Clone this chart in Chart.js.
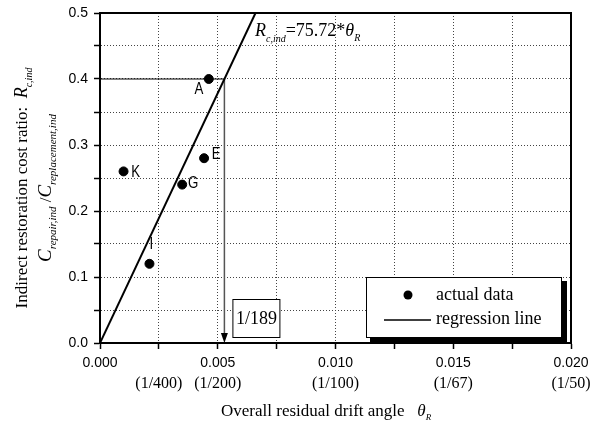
<!DOCTYPE html>
<html>
<head>
<meta charset="utf-8">
<script src="https://cdn.jsdelivr.net/npm/chart.js@4.4.0/dist/chart.umd.min.js"></script>
<style>
  html, body { margin: 0; padding: 0; background: #fff; }
</style>
</head>
<body>
<canvas id="chart" width="613" height="427"></canvas>
<script>
// data
var pointNames = ['A', 'E', 'G', 'K', 'I'];
var driftAngle = [0.00462, 0.00442, 0.00349, 0.00100, 0.00210];
var costRatio  = [0.40, 0.28, 0.24, 0.26, 0.12];
var slope = 75.72;          // R = 75.72 * theta
var targetRatio = 0.4;      // read-back level -> 1/189
var xFracTicks  = [0.0025, 0.005, 0.010, 0.015, 0.020];
var xFracLabels = ['(1/400)', '(1/200)', '(1/100)', '(1/67)', '(1/50)'];
var boxLabel = '1/189';

var serif = '"Liberation Serif", "Times New Roman", serif';
var sans = '"Liberation Sans", Arial, sans-serif';

var points = driftAngle.map(function (x, i) { return { x: x, y: costRatio[i] }; });
var xCross = targetRatio / slope;
var regLine = [{ x: 0, y: 0 }, { x: 0.5 / slope, y: 0.5 }];

// label offsets in px (A sits below-left, I above)
var labelOffset = { A: [-10, 10], E: [12, -4], G: [11, -1], K: [12, 1], I: [2, -19] };

function drawRich(ctx, segs, x, y, align) {
  var w = 0;
  segs.forEach(function (s) { ctx.font = s.font; s.w = ctx.measureText(s.text).width; w += s.w + (s.gap || 0); });
  var cx = align === 'center' ? x - w / 2 : x;
  ctx.textAlign = 'left';
  ctx.textBaseline = 'alphabetic';
  segs.forEach(function (s) {
    ctx.font = s.font;
    ctx.fillText(s.text, cx, y + (s.dy || 0));
    cx += s.w + (s.gap || 0);
  });
}

var decor = {
  id: 'decor',
  afterDraw: function (chart) {
    var ctx = chart.ctx, ca = chart.chartArea;
    var xs = chart.scales.x, ys = chart.scales.y;
    ctx.save();
    ctx.fillStyle = '#000';
    ctx.strokeStyle = '#000';

    // frame
    ctx.lineWidth = 2;
    ctx.strokeRect(ca.left, ca.top, ca.right - ca.left, ca.bottom - ca.top);

    // arrow head at the bottom of the read-back line
    var ax = xs.getPixelForValue(xCross);
    ctx.beginPath();
    ctx.moveTo(ax, ca.bottom);
    ctx.lineTo(ax - 3.5, ca.bottom - 10);
    ctx.lineTo(ax + 3.5, ca.bottom - 10);
    ctx.closePath();
    ctx.fill();

    // 1/189 box
    var bx = ax + 8, by = ca.bottom - 44;
    ctx.fillStyle = '#fff';
    ctx.fillRect(bx, by, 47, 38);
    ctx.lineWidth = 1;
    ctx.strokeRect(bx + 0.5, by + 0.5, 47, 38);
    ctx.fillStyle = '#000';
    ctx.font = '18px ' + serif;
    ctx.textAlign = 'center';
    ctx.textBaseline = 'middle';
    ctx.fillText(boxLabel, bx + 24, by + 20);

    // point names
    ctx.font = '17px ' + sans;
    pointNames.forEach(function (n, i) {
      var px = xs.getPixelForValue(driftAngle[i]) + labelOffset[n][0];
      var py = ys.getPixelForValue(costRatio[i]) + labelOffset[n][1];
      ctx.save();
      ctx.translate(px, py);
      ctx.scale(0.78, 1);
      ctx.textAlign = 'center';
      ctx.textBaseline = 'middle';
      ctx.fillText(n, 0, 0);
      ctx.restore();
    });

    // equation
    drawRich(ctx, [
      { text: 'R', font: 'italic 18px ' + serif },
      { text: 'c,ind', font: 'italic 10px ' + serif, dy: 6 },
      { text: '=75.72*', font: '18px ' + serif },
      { text: '\u03B8', font: 'italic 18px ' + serif },
      { text: 'R', font: 'italic 10px ' + serif, dy: 5 }
    ], ca.left + 155, ca.top + 23, 'left');

    // fraction labels under the x ticks
    ctx.font = '16px ' + serif;
    ctx.textAlign = 'center';
    ctx.textBaseline = 'middle';
    xFracTicks.forEach(function (v, i) {
      ctx.fillText(xFracLabels[i], xs.getPixelForValue(v), ca.bottom + 41);
    });

    // x axis title
    drawRich(ctx, [
      { text: 'Overall residual drift angle   ', font: '17px ' + serif },
      { text: '\u03B8', font: 'italic 17px ' + serif },
      { text: 'R', font: 'italic 9px ' + serif, dy: 4 }
    ], 221, ca.bottom + 73, 'left');

    // y axis title, two rotated lines
    ctx.save();
    ctx.translate(27, 188);
    ctx.rotate(-Math.PI / 2);
    drawRich(ctx, [
      { text: 'Indirect restoration cost ratio:  ', font: '17px ' + serif },
      { text: 'R', font: 'italic 18px ' + serif },
      { text: 'c,ind', font: 'italic 10px ' + serif, dy: 5 }
    ], 0, 0, 'center');
    drawRich(ctx, [
      { text: 'C', font: 'italic 19px ' + serif },
      { text: 'repair,ind', font: 'italic 11px ' + serif, dy: 5 },
      { text: ' /', font: '17px ' + serif },
      { text: 'C', font: 'italic 19px ' + serif },
      { text: 'replacement,ind', font: 'italic 11px ' + serif, dy: 5 }
    ], 0, 24, 'center');
    ctx.restore();

    // legend with drop shadow
    var lx = ca.right - 205, ly = ca.bottom - 66, lw = 195, lh = 60;
    ctx.fillStyle = '#000';
    ctx.fillRect(lx + 4, ly + 4, lw + 2, lh + 1);
    ctx.fillStyle = '#fff';
    ctx.fillRect(lx, ly, lw, lh);
    ctx.lineWidth = 1;
    ctx.strokeStyle = '#000';
    ctx.strokeRect(lx + 0.5, ly + 0.5, lw, lh);
    ctx.fillStyle = '#000';
    ctx.beginPath();
    ctx.arc(lx + 42, ly + 18, 4.5, 0, Math.PI * 2);
    ctx.fill();
    ctx.lineWidth = 1.5;
    ctx.beginPath();
    ctx.moveTo(lx + 18, ly + 43);
    ctx.lineTo(lx + 65, ly + 43);
    ctx.stroke();
    ctx.font = '18px ' + serif;
    ctx.textAlign = 'left';
    ctx.textBaseline = 'middle';
    ctx.fillText('actual data', lx + 70, ly + 18);
    ctx.fillText('regression line', lx + 70, ly + 42);

    ctx.restore();
  }
};

new Chart(document.getElementById('chart'), {
  type: 'scatter',
  data: {
    datasets: [
      {
        label: 'actual data',
        data: points,
        pointRadius: 4.5,
        pointHoverRadius: 4.5,
        backgroundColor: '#000',
        borderColor: '#000'
      },
      {
        label: 'regression line',
        data: regLine,
        showLine: true,
        borderColor: '#000',
        borderWidth: 2,
        pointRadius: 0
      },
      {
        label: 'level',
        data: [{ x: 0, y: targetRatio }, { x: xCross, y: targetRatio }],
        showLine: true,
        borderColor: '#000',
        borderWidth: 1,
        pointRadius: 0
      },
      {
        label: 'drop',
        data: [{ x: xCross, y: targetRatio }, { x: xCross, y: 0.012 }],
        showLine: true,
        borderColor: '#555',
        borderWidth: 1.5,
        pointRadius: 0
      }
    ]
  },
  options: {
    responsive: false,
    animation: false,
    events: [],
    layout: { padding: { left: 0, top: 13, right: 42, bottom: 0 } },
    plugins: { legend: { display: false }, tooltip: { enabled: false } },
    scales: {
      x: {
        type: 'linear',
        min: 0,
        max: 0.02,
        afterFit: function (s) { s.height = 84; s.paddingLeft = 0; s.paddingRight = 0; },
        ticks: {
          stepSize: 0.0025,
          autoSkip: false,
          maxRotation: 0,
          padding: 6,
          color: '#000',
          font: { family: sans, size: 14 },
          callback: function (v) {
            var k = v / 0.005;
            return Math.abs(k - Math.round(k)) < 1e-6 ? v.toFixed(3) : '';
          }
        },
        grid: { color: '#444', lineWidth: 1, tickLength: 6, tickColor: '#000', tickWidth: 1.5, tickBorderDash: [] },
        border: { color: '#000', width: 2, dash: [1, 2] }
      },
      y: {
        type: 'linear',
        min: 0,
        max: 0.5,
        afterFit: function (s) { s.width = 100; s.paddingTop = 0; s.paddingBottom = 0; },
        ticks: {
          stepSize: 0.05,
          autoSkip: false,
          padding: 6,
          color: '#000',
          font: { family: sans, size: 14 },
          callback: function (v) {
            var k = v / 0.1;
            return Math.abs(k - Math.round(k)) < 1e-6 ? v.toFixed(1) : '';
          }
        },
        grid: { color: '#444', lineWidth: 1, tickLength: 6, tickColor: '#000', tickWidth: 1.5, tickBorderDash: [] },
        border: { color: '#000', width: 2, dash: [1, 2] }
      }
    }
  },
  plugins: [decor]
});
</script>
</body>
</html>
